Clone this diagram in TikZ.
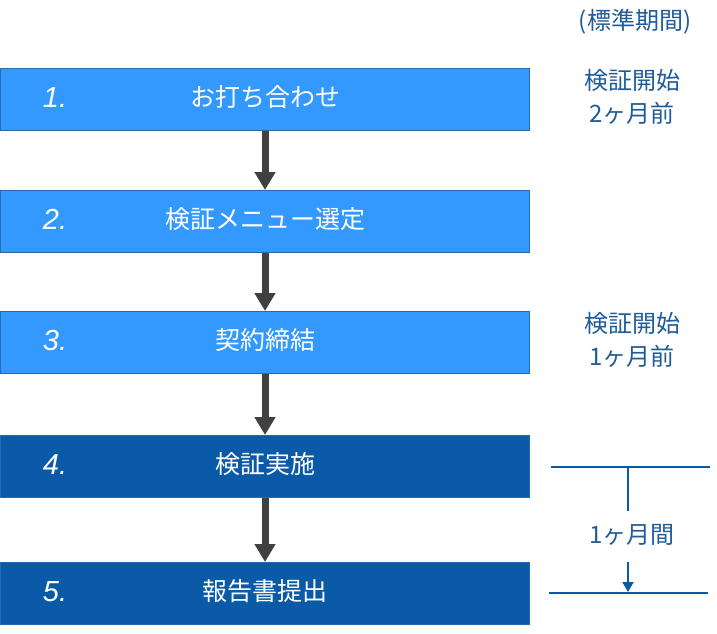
\documentclass[tikz,border=0pt]{standalone}
\usepackage{fontspec}
\setmainfont{Liberation Sans}
\newfontfamily\cjk{Noto Sans CJK JP}
\usetikzlibrary{arrows.meta}
\definecolor{lb}{HTML}{3399FF}
\definecolor{db}{HTML}{0B5AA8}
\definecolor{tb}{HTML}{1F5C99}
\definecolor{ag}{HTML}{404040}
\begin{document}
\begin{tikzpicture}[x=1pt,y=-1pt,
  stepbox/.style={minimum width=529pt,minimum height=62pt,inner sep=0pt,draw=lb!70!black,line width=0.6pt,anchor=north west},
  lbox/.style={stepbox,fill=lb},
  dbox/.style={stepbox,fill=db},
  lab/.style={text=white,font=\cjk\fontsize{25}{28}\selectfont},
  num/.style={text=white,font=\itshape\fontsize{29}{32}\selectfont},
  flow/.style={-{Triangle[length=18pt,width=20pt]},line width=7pt,draw=ag},
  side/.style={text=tb,font=\cjk\fontsize{24}{33}\selectfont,align=center},
  bl/.style={draw=db,line width=2pt}]
\useasboundingbox (0,0) rectangle (717,633);
\node[lbox] (b1) at (0,68) {};
\node[lbox] (b2) at (0,190) {};
\node[lbox] (b3) at (0,311) {};
\node[dbox] (b4) at (0,435) {};
\node[dbox] (b5) at (0,562) {};
\foreach \i/\t in {1/お打ち合わせ,2/検証メニュー選定,3/契約締結,4/検証実施,5/報告書提出}{
  \node[lab] (t\i) at ([xshift=265pt,yshift=2pt]b\i.west) {\t};
  \node[num] (n\i) at ([xshift=55pt,yshift=2pt]b\i.west) {\i.};
}
\foreach \a/\b in {1/2,2/3,3/4,4/5}{
  \draw[flow] (b\a.south -| 265,0) -- (b\b.north -| 265,0);
}
\node[side] (hdr) at (635,22) {(標準期間)};
\node[side] (s1) at (632,97) {検証開始\\2ヶ月前};
\node[side] (s3) at (632,340) {検証開始\\1ヶ月前};
\coordinate (l1a) at (551,467); \coordinate (l1b) at (710,467);
\coordinate (l2a) at (549,593); \coordinate (l2b) at (708,593);
\draw[bl] (l1a) -- (l1b);
\draw[bl] (l2a) -- (l2b);
\coordinate (v1) at (628,467); \coordinate (v2) at (628,511);
\coordinate (v3) at (628,562);
\draw[bl] (v1) -- (v2);
\node[side] (mid) at (632,535) {1ヶ月間};
\draw[bl,-{Triangle[length=10pt,width=11pt]}] (v3) -- (628,592);
\end{tikzpicture}
\end{document}
